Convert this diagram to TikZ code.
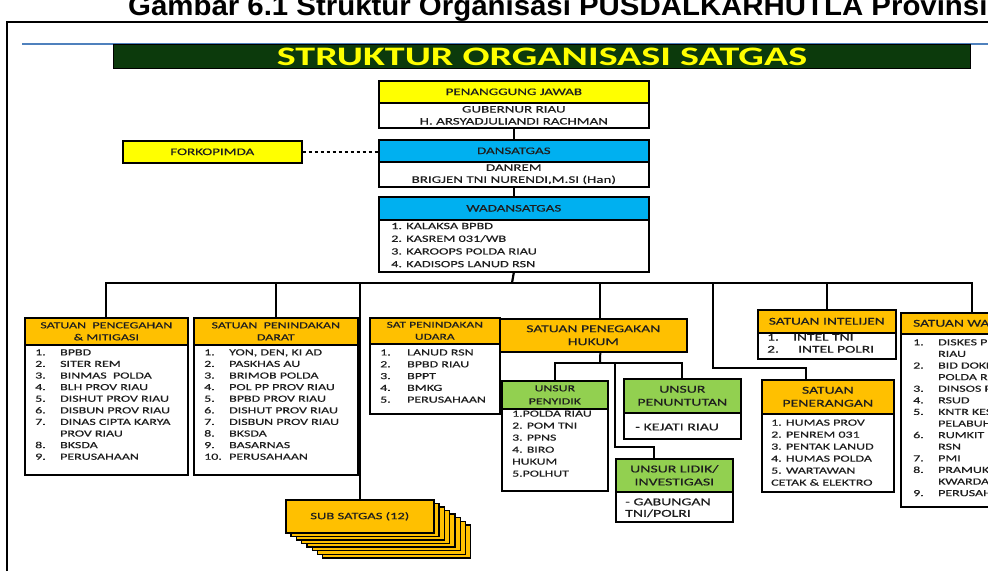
\documentclass[tikz,border=0pt]{standalone}
\usepackage{fontspec}
\setmainfont{Carlito}[FakeStretch=1.5, FakeBold=0.35]
\newfontfamily\figcapfont{Liberation Sans}[FakeStretch=1.05]
\newfontfamily\satgastitle{Carlito}[FakeStretch=1.5]
\usepackage{xcolor}
\usepackage{tikz}
\usetikzlibrary{positioning}
\definecolor{satgas-green}{RGB}{12,58,12}
\definecolor{satgas-yellow}{RGB}{255,255,0}
\definecolor{satgas-blue}{RGB}{0,176,240}
\definecolor{satgas-orange}{RGB}{255,192,0}
\definecolor{satgas-lime}{RGB}{146,208,80}
\definecolor{satgas-rule}{RGB}{79,129,189}
\definecolor{satgas-text}{RGB}{30,30,30}

\begin{document}
\begin{tikzpicture}[x=1pt, y=-1pt,
  unitbox/.style={draw=black, line width=1.6pt, inner sep=0pt, anchor=north west},
  headbox/.style={unitbox, align=center, text=satgas-text, font=\fontsize{9.3}{12}\selectfont},
  bodybox/.style={unitbox, fill=white, text=satgas-text},
  listtext/.style={inner sep=0pt, anchor=north west, text=satgas-text, font=\fontsize{9.3}{11.6}\selectfont},
  conn/.style={draw=black, line width=2.2pt}]

  \useasboundingbox (0,0) rectangle (988,571);
  \clip (0,0) rectangle (988,571);

  % Caption, frame and title bar
  \node[anchor=base west, inner sep=0pt] (cap) at (128,15) {\figcapfont\bfseries\fontsize{28}{30}\selectfont Gambar 6.1 Struktur Organisasi PUSDALKARHUTLA Provinsi Riau};
  \draw[line width=2pt] (7,571) -- (7,22) -- (988,22);
  \draw[satgas-rule, line width=1.2pt] (22,44) -- (988,44);
  \node[unitbox, line width=1pt, fill=satgas-green, minimum width=857pt, minimum height=24pt, text=satgas-yellow, font=\satgastitle\bfseries\fontsize{26.7}{28}\selectfont] (title) at (113,44) {STRUKTUR ORGANISASI SATGAS};

  % Penanggung jawab
  \node[bodybox, minimum width=270pt, minimum height=25pt, align=center, font=\fontsize{10}{12}\selectfont] (pjb) at (378,102) {GUBERNUR RIAU\\H. ARSYADJULIANDI RACHMAN};
  \node[headbox, fill=satgas-yellow, minimum width=270pt, minimum height=22pt, font=\fontsize{10}{12}\selectfont] (pj) at (378,80) {PENANGGUNG JAWAB};

  % Dansatgas and Forkopimda
  \node[bodybox, minimum width=270pt, minimum height=25pt, align=center, font=\fontsize{10}{12}\selectfont] (dnb) at (378,161) {DANREM\\BRIGJEN TNI NURENDI,M.SI (Han)};
  \node[headbox, fill=satgas-blue, minimum width=270pt, minimum height=22pt, font=\fontsize{10}{12}\selectfont] (dn) at (378,139) {DANSATGAS};
  \node[headbox, fill=satgas-yellow, minimum width=179pt, minimum height=22pt, font=\fontsize{10}{12}\selectfont] (fk) at (122,140) {FORKOPIMDA};

  % Wadansatgas
  \node[bodybox, minimum width=270pt, minimum height=52pt] (wdb) at (378,219) {};
  \node[headbox, fill=satgas-blue, minimum width=270pt, minimum height=23pt, font=\fontsize{10}{12}\selectfont] (wd) at (378,196) {WADANSATGAS};
  \node[listtext, font=\fontsize{9.5}{12.7}\selectfont] (wdl) at (391,220) {\begin{tabular}{@{}l@{}}
    1. KALAKSA BPBD\\ 2. KASREM 031/WB\\ 3. KAROOPS POLDA RIAU\\ 4. KADISOPS LANUD RSN\end{tabular}};

  % Satuan Pencegahan & Mitigasi
  \node[bodybox, minimum width=163pt, minimum height=130pt] (pmb) at (24,344) {};
  \node[headbox, fill=satgas-orange, minimum width=163pt, minimum height=27pt] (pm) at (24,317) {SATUAN\ \ PENCEGAHAN\\\& MITIGASI};
  \node[listtext] (pml) at (35,347) {\begin{tabular}{@{}p{25pt}@{}l@{}}
    1. & BPBD\\ 2. & SITER REM\\ 3. & BINMAS\ \ POLDA\\ 4. & BLH PROV RIAU\\
    5. & DISHUT PROV RIAU\\ 6. & DISBUN PROV RIAU\\ 7. & DINAS CIPTA KARYA\\
       & PROV RIAU\\ 8. & BKSDA\\ 9. & PERUSAHAAN\end{tabular}};

  % Satuan Penindakan Darat
  \node[bodybox, minimum width=164pt, minimum height=130pt] (pdb) at (193,344) {};
  \node[headbox, fill=satgas-orange, minimum width=164pt, minimum height=27pt] (pd) at (193,317) {SATUAN\ \ PENINDAKAN\\DARAT};
  \node[listtext] (pdl) at (204,347) {\begin{tabular}{@{}p{25pt}@{}l@{}}
    1. & YON, DEN, KI AD\\ 2. & PASKHAS AU\\ 3. & BRIMOB POLDA\\ 4. & POL PP PROV RIAU\\
    5. & BPBD PROV RIAU\\ 6. & DISHUT PROV RIAU\\ 7. & DISBUN PROV RIAU\\
    8. & BKSDA\\ 9. & BASARNAS\\ 10. & PERUSAHAAN\end{tabular}};

  % Sat Penindakan Udara
  \node[bodybox, minimum width=130pt, minimum height=70pt] (pub) at (369,343) {};
  \node[headbox, fill=satgas-orange, minimum width=130pt, minimum height=26pt, font=\fontsize{9}{12}\selectfont] (pu) at (369,317) {SAT PENINDAKAN\\UDARA};
  \node[listtext, font=\fontsize{9.3}{11.8}\selectfont] (pul) at (380,347) {\begin{tabular}{@{}p{27pt}@{}l@{}}
    1. & LANUD RSN\\ 2. & BPBD RIAU\\ 3. & BPPT\\ 4. & BMKG\\ 5. & PERUSAHAAN\end{tabular}};

  % Sub Satgas
  \foreach \i in {7,6,...,1}
    \node[headbox, line width=1.3pt, fill=satgas-orange, minimum width=148pt, minimum height=33pt] (ss\i) at (285+5.3*\i,499+3.6*\i) {};
  \node[headbox, fill=satgas-orange, minimum width=148pt, minimum height=33pt, font=\fontsize{9.7}{12}\selectfont] (ss) at (285,499) {SUB SATGAS (12)};

  % Satuan Penegakan Hukum
  \node[headbox, fill=satgas-orange, minimum width=187pt, minimum height=33pt, font=\fontsize{10.4}{13}\selectfont] (ph) at (499,318) {SATUAN PENEGAKAN\\HUKUM};

  \node[bodybox, minimum width=106pt, minimum height=82pt] (pyb) at (501,408) {};
  \node[headbox, fill=satgas-lime, minimum width=106pt, minimum height=28pt, font=\fontsize{9.2}{13}\selectfont] (py) at (501,380) {UNSUR\\PENYIDIK};
  \node[listtext, font=\fontsize{9.2}{12}\selectfont] (pyl) at (512,408) {\begin{tabular}{@{}l@{}}
    1.POLDA RIAU\\ 2. POM TNI\\ 3. PPNS\\ 4. BIRO\\ HUKUM\\ 5.POLHUT\end{tabular}};

  \node[bodybox, minimum width=117pt, minimum height=26pt] (ptb) at (623,412) {};
  \node[headbox, fill=satgas-lime, minimum width=117pt, minimum height=34pt, font=\fontsize{10.5}{13}\selectfont] (pt) at (623,378) {UNSUR\\PENUNTUTAN};
  \node[listtext, anchor=west, font=\fontsize{10.5}{12}\selectfont] (ptl) at (635,427) {- KEJATI RIAU};

  \node[bodybox, minimum width=117pt, minimum height=30pt] (plb) at (615,491) {};
  \node[headbox, fill=satgas-lime, minimum width=117pt, minimum height=33pt, font=\fontsize{10.5}{13}\selectfont] (pl) at (615,458) {UNSUR LIDIK/\\INVESTIGASI};
  \node[listtext, font=\fontsize{10.5}{11.5}\selectfont] (pll) at (625,497) {\begin{tabular}{@{}l@{}}
    - GABUNGAN\\ TNI/POLRI\end{tabular}};

  % Satuan Intelijen
  \node[bodybox, minimum width=138pt, minimum height=26pt] (pib) at (757,332) {};
  \node[headbox, fill=satgas-orange, minimum width=138pt, minimum height=23pt, font=\fontsize{10.3}{12}\selectfont] (pi) at (757,309) {SATUAN INTELIJEN};
  \node[listtext, font=\fontsize{10.3}{12}\selectfont] (pil) at (767,332) {\begin{tabular}{@{}p{26pt}@{}l@{}}
    1. & INTEL TNI\\ 2. & \hspace{5pt}INTEL POLRI\end{tabular}};

  % Satuan Penerangan
  \node[bodybox, minimum width=132pt, minimum height=78pt] (pnb) at (761,413) {};
  \node[headbox, fill=satgas-orange, minimum width=132pt, minimum height=34pt, font=\fontsize{10.5}{13}\selectfont] (pn) at (761,379) {SATUAN\\PENERANGAN};
  \node[listtext, font=\fontsize{9.3}{12}\selectfont] (pnl) at (771,417) {\begin{tabular}{@{}l@{}}
    1. HUMAS PROV\\ 2. PENREM 031\\ 3. PENTAK LANUD\\ 4. HUMAS POLDA\\
    5. WARTAWAN\\ CETAK \& ELEKTRO\end{tabular}};

  % Satuan Waspada (cut at the right edge)
  \node[bodybox, minimum width=142pt, minimum height=173pt] (pwb) at (900,333) {};
  \node[headbox, fill=satgas-orange, minimum width=142pt, minimum height=21pt, font=\fontsize{10.3}{12}\selectfont] (pw) at (900,312) {SATUAN WASPADA};
  \node[listtext] (pwl) at (913,337) {\begin{tabular}{@{}p{25pt}@{}l@{}}
    1. & DISKES PROV\\ & RIAU\\ 2. & BID DOKKES\\ & POLDA RIAU\\ 3. & DINSOS PROV\\
    4. & RSUD\\ 5. & KNTR KES\\ & PELABUHAN\\ 6. & RUMKIT LANUD\\ & RSN\\
    7. & PMI\\ 8. & PRAMUKA\\ & KWARDA\\ 9. & PERUSAHAAN\end{tabular}};

  % Connectors
  \coordinate (bus) at (512,283);
  \coordinate (phin) at ([xshift=7pt]ph.north);
  \coordinate (knee) at (713,368);
  \coordinate (pnin) at ([xshift=-22pt]pn.north);
  \coordinate (hk) at (600,363);
  \coordinate (hl) at (615,363);
  \coordinate (lk) at (615,447);
  \coordinate (plin) at ([xshift=-20pt]pl.north);

  \draw[conn] (pjb.south) -- (dn.north);
  \draw[conn] (dnb.south) -- (wd.north);
  \draw[line width=2.6pt, dash pattern=on 3pt off 3pt] (fk.east) -- (dn.west |- fk.east);
  \draw[conn] (wdb.south) -- (bus);
  \draw[conn] (pm.north) |- (bus) -| (pw.north);
  \foreach \n in {pd,ss,pi}
    \draw[conn] (\n.north) -- (\n.north |- bus);
  \draw[conn] (phin) -- (phin |- bus);
  \draw[conn] (knee |- bus) -- (knee) -| (pnin);

  \draw[conn, line width=2pt] (phin |- ph.south) -- (hk);
  \draw[conn, line width=2pt] (py.north) |- (hk) -| (pt.north);
  \draw[conn, line width=2pt] (hl) -- (lk) -| (plin);
\end{tikzpicture}
\end{document}
